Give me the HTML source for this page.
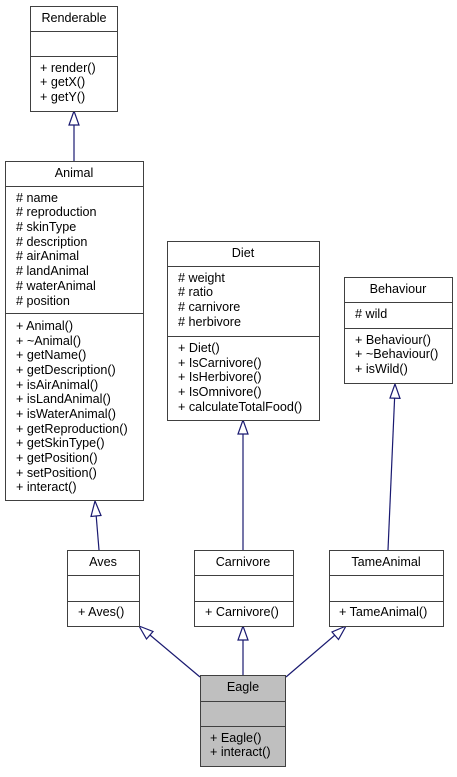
<!DOCTYPE html>
<html><head><meta charset="utf-8"><style>
html,body{margin:0;padding:0;background:#fff;}
svg text{font-family:"Liberation Sans",sans-serif;font-size:12.6px;fill:#000;}
</style></head><body>
<svg width="457" height="772" viewBox="0 0 457 772" xmlns="http://www.w3.org/2000/svg">
<g stroke="#191970" stroke-width="1.2" fill="none">
<line x1="74" y1="161" x2="74" y2="125"/>
<polygon points="74,111 69,125 79,125" fill="#fff"/>
<line x1="99" y1="550" x2="96.2" y2="516"/>
<polygon points="95,501 91,516.5 101,515.5" fill="#fff"/>
<line x1="243" y1="550" x2="243" y2="434"/>
<polygon points="243,420 238,434 248,434" fill="#fff"/>
<line x1="388" y1="550" x2="394.6" y2="398"/>
<polygon points="395,384 390,398 400,398.4" fill="#fff"/>
<line x1="200" y1="677" x2="150" y2="635"/>
<polygon points="139,626 146.5,639 153,631.5" fill="#fff"/>
<line x1="243" y1="675" x2="243" y2="640"/>
<polygon points="243,626 238,640 248,640" fill="#fff"/>
<line x1="286" y1="677" x2="335" y2="635"/>
<polygon points="346,626 332,632 338.5,639.5" fill="#fff"/>
</g>
<g stroke="#404040" stroke-width="1" fill="#fff">
<rect x="30.5" y="6.5" width="87" height="105"/>
<line x1="30.5" y1="31.5" x2="117.5" y2="31.5"/><line x1="30.5" y1="56.5" x2="117.5" y2="56.5"/>
<rect x="5.5" y="161.5" width="138" height="339"/>
<line x1="5.5" y1="186.5" x2="143.5" y2="186.5"/><line x1="5.5" y1="313.5" x2="143.5" y2="313.5"/>
<rect x="167.5" y="241.5" width="152" height="179"/>
<line x1="167.5" y1="266.5" x2="319.5" y2="266.5"/><line x1="167.5" y1="336.5" x2="319.5" y2="336.5"/>
<rect x="344.5" y="277.5" width="108" height="106"/>
<line x1="344.5" y1="302.5" x2="452.5" y2="302.5"/><line x1="344.5" y1="328.5" x2="452.5" y2="328.5"/>
<rect x="67.5" y="550.5" width="72" height="76"/>
<line x1="67.5" y1="575.5" x2="139.5" y2="575.5"/><line x1="67.5" y1="601.5" x2="139.5" y2="601.5"/>
<rect x="194.5" y="550.5" width="99" height="76"/>
<line x1="194.5" y1="575.5" x2="293.5" y2="575.5"/><line x1="194.5" y1="601.5" x2="293.5" y2="601.5"/>
<rect x="329.5" y="550.5" width="114" height="76"/>
<line x1="329.5" y1="575.5" x2="443.5" y2="575.5"/><line x1="329.5" y1="601.5" x2="443.5" y2="601.5"/>
<rect x="200.5" y="675.5" width="85" height="91" fill="#bfbfbf"/>
<line x1="200.5" y1="701.5" x2="285.5" y2="701.5"/><line x1="200.5" y1="726.5" x2="285.5" y2="726.5"/>
</g>
<g>
<text x="74" y="22" text-anchor="middle">Renderable</text>
<text x="40" y="72">+ render()</text>
<text x="40" y="86">+ getX()</text>
<text x="40" y="101">+ getY()</text>

<text x="74" y="177" text-anchor="middle">Animal</text>
<text x="16" y="202"># name</text>
<text x="16" y="216"># reproduction</text>
<text x="16" y="231"># skinType</text>
<text x="16" y="246"># description</text>
<text x="16" y="260"># airAnimal</text>
<text x="16" y="275"># landAnimal</text>
<text x="16" y="290"># waterAnimal</text>
<text x="16" y="305"># position</text>
<text x="16" y="330">+ Animal()</text>
<text x="16" y="345">+ ~Animal()</text>
<text x="16" y="359">+ getName()</text>
<text x="16" y="374">+ getDescription()</text>
<text x="16" y="389">+ isAirAnimal()</text>
<text x="16" y="403">+ isLandAnimal()</text>
<text x="16" y="418">+ isWaterAnimal()</text>
<text x="16" y="433">+ getReproduction()</text>
<text x="16" y="447">+ getSkinType()</text>
<text x="16" y="462">+ getPosition()</text>
<text x="16" y="477">+ setPosition()</text>
<text x="16" y="491">+ interact()</text>

<text x="243" y="257" text-anchor="middle">Diet</text>
<text x="178" y="282"># weight</text>
<text x="178" y="296"># ratio</text>
<text x="178" y="311"># carnivore</text>
<text x="178" y="326"># herbivore</text>
<text x="178" y="352">+ Diet()</text>
<text x="178" y="367">+ IsCarnivore()</text>
<text x="178" y="381">+ IsHerbivore()</text>
<text x="178" y="396">+ IsOmnivore()</text>
<text x="178" y="411">+ calculateTotalFood()</text>

<text x="398" y="293" text-anchor="middle">Behaviour</text>
<text x="355" y="318"># wild</text>
<text x="355" y="344">+ Behaviour()</text>
<text x="355" y="358">+ ~Behaviour()</text>
<text x="355" y="373">+ isWild()</text>

<text x="103" y="566" text-anchor="middle">Aves</text>
<text x="78" y="616">+ Aves()</text>
<text x="243" y="566" text-anchor="middle">Carnivore</text>
<text x="205" y="616">+ Carnivore()</text>
<text x="386" y="566" text-anchor="middle">TameAnimal</text>
<text x="339" y="616">+ TameAnimal()</text>

<text x="243" y="691" text-anchor="middle">Eagle</text>
<text x="210" y="742">+ Eagle()</text>
<text x="210" y="756">+ interact()</text>
</g>
</svg>
</body></html>
